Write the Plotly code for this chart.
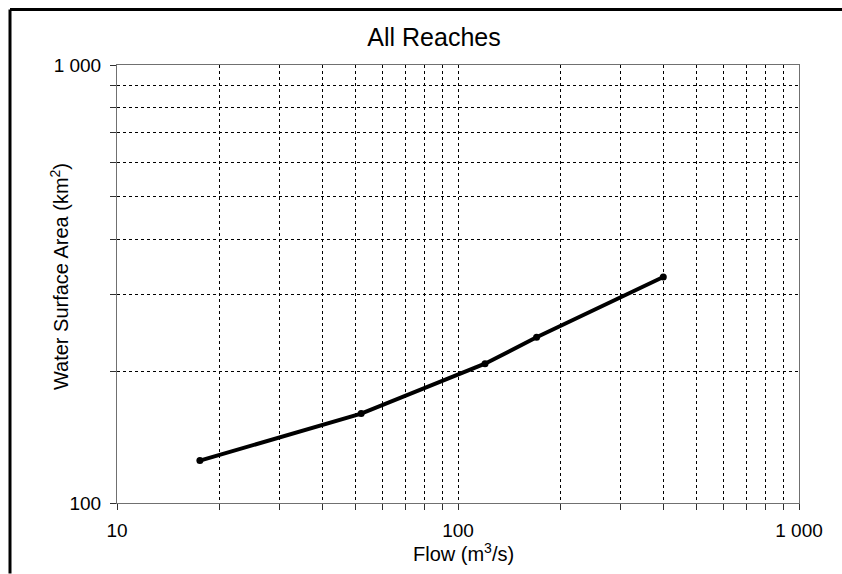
import plotly.graph_objects as go

# Stage–area relation for all reaches combined
flow_m3s = [17.5, 52, 120, 170, 400]
area_km2 = [125, 160, 208, 239, 328]

x_ticks = [10, 20, 30, 40, 50, 60, 70, 80, 90,
           100, 200, 300, 400, 500, 600, 700, 800, 900, 1000]
x_labels = ["10"] + [""] * 8 + ["100"] + [""] * 8 + ["1 000"]
y_ticks = [100, 200, 300, 400, 500, 600, 700, 800, 900, 1000]
y_labels = ["100"] + [""] * 8 + ["1 000"]

FONT = "Arial, Liberation Sans, sans-serif"

fig = go.Figure()
fig.add_trace(go.Scatter(
    x=flow_m3s, y=area_km2,
    mode="lines+markers",
    line=dict(color="black", width=4),
    marker=dict(color="black", size=7),
    showlegend=False,
))

axis_common = dict(
    type="log",
    showline=True, mirror=True, linecolor="#707070", linewidth=1,
    showgrid=True, gridcolor="black", gridwidth=1, griddash="dot",
    ticks="outside", ticklen=6, tickcolor="#303030", tickwidth=1,
    tickmode="array",
    zeroline=False,
    tickfont=dict(family=FONT, size=19, color="black"),
)

fig.update_xaxes(**axis_common, range=[1, 3],
                 tickvals=x_ticks, ticktext=x_labels,
                 ticklabelstandoff=4)
fig.update_yaxes(**axis_common, range=[2, 3],
                 tickvals=y_ticks, ticktext=y_labels,
                 ticklabelstandoff=5)

# Page geometry in pixels
L, R, T, B = 117, 43, 64.5, 70.7
W, H = 842, 574
pw, ph = W - L - R, H - T - B


def px_x(p):
    return (p - L) / pw


def px_y(p):
    return (H - B - p) / ph


# Heavy rule along the top and left edge of the figure
fig.add_shape(type="line", xref="paper", yref="paper",
              x0=px_x(10), x1=px_x(842), y0=px_y(9), y1=px_y(9),
              line=dict(color="black", width=3))
fig.add_shape(type="line", xref="paper", yref="paper",
              x0=px_x(10), x1=px_x(10), y0=px_y(9), y1=px_y(574),
              line=dict(color="black", width=3))

# Axis titles
fig.add_annotation(text="Flow (m<sup>3</sup>/s)", xref="paper", yref="paper",
                   x=px_x(463), y=px_y(553), xanchor="center", yanchor="middle",
                   showarrow=False, font=dict(family=FONT, size=20, color="black"))
fig.add_annotation(text="Water Surface Area (km<sup>2</sup>)", xref="paper", yref="paper",
                   x=px_x(59), y=px_y(277), xanchor="center", yanchor="middle",
                   textangle=-90, showarrow=False,
                   font=dict(family=FONT, size=20, color="black"))

fig.update_layout(
    width=W, height=H,
    margin=dict(l=L, r=R, t=T, b=B),
    paper_bgcolor="white", plot_bgcolor="white",
    title=dict(text="All Reaches", x=434 / W, xref="container", xanchor="center",
               y=1 - 37 / H, yanchor="middle",
               font=dict(family=FONT, size=25, color="black")),
)

fig.write_html("out.html")
